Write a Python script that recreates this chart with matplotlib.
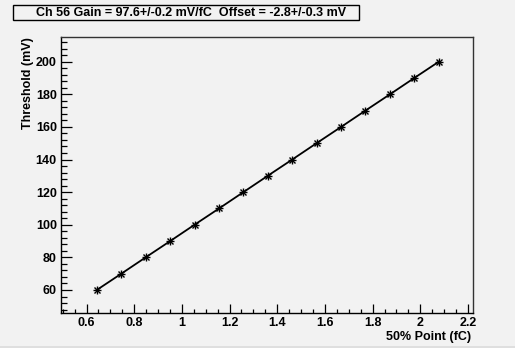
import matplotlib
matplotlib.use("Agg")
import matplotlib.pyplot as plt
from matplotlib.patches import Rectangle
from matplotlib.lines import Line2D
from matplotlib.ticker import MultipleLocator

# threshold scan: 50% point vs DAC threshold
threshold = [60, 70, 80, 90, 100, 110, 120, 130, 140, 150, 160, 170, 180, 190, 200]
point50 = [0.643, 0.746, 0.848, 0.951, 1.053, 1.156, 1.258, 1.360,
           1.463, 1.565, 1.668, 1.770, 1.873, 1.975, 2.078]
title = "Ch 56 Gain = 97.6+/-0.2 mV/fC  Offset = -2.8+/-0.3 mV"

bg = "#f2f2f2"
fs = 9
plt.rcParams['font.family'] = ['Liberation Sans', 'DejaVu Sans']
plt.rcParams['font.weight'] = 'bold'

W, H = 515, 348
fig = plt.figure(figsize=(W / 100, H / 100), dpi=100, facecolor=bg)
ax = fig.add_axes([61 / W, 1 - 313 / H, (473 - 61) / W, (313 - 37) / H], facecolor=bg)

ax.plot(point50, threshold, color='black', lw=1.3, zorder=2)
ax.plot(point50, threshold, ls='none', marker='+', ms=5.5, mew=1.0, color='black', zorder=3)
ax.plot(point50, threshold, ls='none', marker='x', ms=4, mew=1.0, color='black', zorder=3)

ax.set_xlim(0.493, 2.221)
ax.set_ylim(45.9, 215.1)

ax.xaxis.set_major_locator(MultipleLocator(0.2))
ax.xaxis.set_minor_locator(MultipleLocator(0.05))
ax.yaxis.set_major_locator(MultipleLocator(20))
ax.yaxis.set_minor_locator(MultipleLocator(4))
ax.xaxis.set_major_formatter(matplotlib.ticker.FuncFormatter(lambda v, p: f"{v:g}"))

ax.tick_params(axis='both', which='both', direction='in', labelsize=fs,
               top=False, right=False, width=0.9)
ax.tick_params(axis='y', which='major', length=8, pad=3)
ax.tick_params(axis='y', which='minor', length=4.3)
ax.tick_params(axis='x', which='major', length=6.5, pad=3)
ax.tick_params(axis='x', which='minor', length=3)
for lab in ax.get_xticklabels() + ax.get_yticklabels():
    lab.set_fontweight('bold')

for s in ['left', 'bottom']:
    ax.spines[s].set_linewidth(1.0)
for s in ['top', 'right']:
    ax.spines[s].set_linewidth(1.0)
    ax.spines[s].set_color('#333333')

fig.text(28 / W, 1 - 37 / H, "Threshold (mV)", rotation=90, ha='center', va='top',
         fontsize=fs, fontweight='bold')
fig.text(471 / W, 1 - 337 / H, "50% Point (fC)", ha='right', va='center',
         fontsize=fs, fontweight='bold')

# title pave
fig.patches.append(Rectangle((13 / W, 1 - 20 / H), (359 - 13) / W, 15 / H,
                             transform=fig.transFigure, facecolor=bg,
                             edgecolor='black', lw=1.0))
fig.text(191 / W, 1 - 12.5 / H, title, ha='center', va='center',
         fontsize=fs, fontweight='bold')

# canvas border at the bottom
fig.lines.append(Line2D([0, 1], [1.5 / H, 1.5 / H], transform=fig.transFigure,
                        color='#dcdcdc', lw=1.2))

fig.savefig("out.png", dpi=100, facecolor=bg)
